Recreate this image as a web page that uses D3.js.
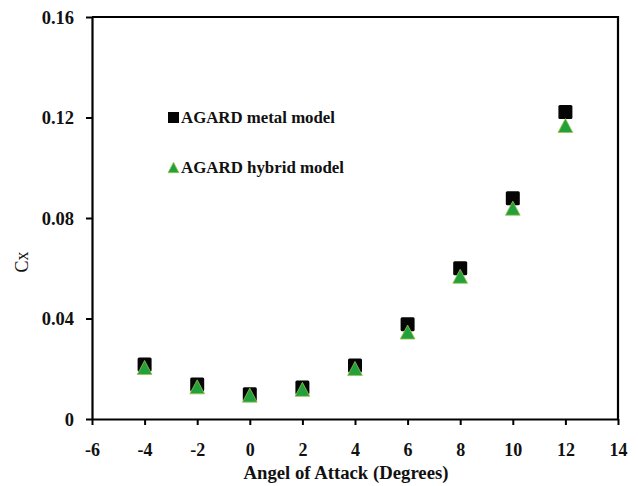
<!DOCTYPE html>
<html>
<head>
<meta charset="utf-8">
<script src="https://cdn.jsdelivr.net/npm/d3@7"></script>
<style>
  html, body { margin: 0; padding: 0; background: #fff; }
  svg { display: block; }
  text { font-family: "Liberation Serif", "DejaVu Serif", serif; font-weight: bold; fill: #111; }
</style>
</head>
<body>
<svg id="chart" width="638" height="486"></svg>
<script>
// Angle of attack (degrees)
const angles = [-4, -2, 0, 2, 4, 6, 8, 10, 12];
// Drag coefficient Cx for each model
const metalCx  = [0.0217, 0.0137, 0.0099, 0.0125, 0.0213, 0.0377, 0.0600, 0.0879, 0.1222];
const hybridCx = [0.0205, 0.0128, 0.0095, 0.0118, 0.0201, 0.0346, 0.0568, 0.0839, 0.1168];
// Axis ticks
const xTicks = [-6, -4, -2, 0, 2, 4, 6, 8, 10, 12, 14];
const xTickLabels = ["-6", "-4", "-2", "0", "2", "4", "6", "8", "10", "12", "14"];
const yTicks = [0, 0.04, 0.08, 0.12, 0.16];
const yTickLabels = ["0", "0.04", "0.08", "0.12", "0.16"];
const seriesNames = ["AGARD metal model", "AGARD hybrid model"];

const svg = d3.select("#chart");
const m = { left: 92, right: 618, top: 17, bottom: 419 };

const x = d3.scaleLinear().domain([-6, 14]).range([m.left, m.right]);
const y = d3.scaleLinear().domain([0, 0.16]).range([m.bottom, m.top]);

const axisColor = "#000";

// Plot frame (top and right edges)
svg.append("path")
  .attr("d", `M${m.left},${m.top}H${m.right}V${m.bottom}`)
  .attr("fill", "none").attr("stroke", axisColor).attr("stroke-width", 2.2);

// Y axis
const yAxis = svg.append("g")
  .attr("transform", `translate(${m.left},0)`)
  .call(d3.axisLeft(y).tickValues(yTicks).tickSize(6).tickSizeOuter(0)
    .tickFormat((d, i) => yTickLabels[i]));
yAxis.select(".domain").attr("stroke", axisColor).attr("stroke-width", 2.2);
yAxis.selectAll(".tick line").attr("stroke", axisColor).attr("stroke-width", 2);
yAxis.selectAll(".tick text")
  .attr("x", -18).attr("dy", "0.34em")
  .style("font-size", "18.5px").style("font-family", "Liberation Serif").style("font-weight", "bold");

// X axis
const xAxis = svg.append("g")
  .attr("transform", `translate(0,${m.bottom})`)
  .call(d3.axisBottom(x).tickValues(xTicks).tickSize(6).tickSizeOuter(0)
    .tickFormat((d, i) => xTickLabels[i]));
xAxis.select(".domain").attr("stroke", axisColor).attr("stroke-width", 2.2);
xAxis.selectAll(".tick line").attr("stroke", axisColor).attr("stroke-width", 2);
xAxis.selectAll(".tick text")
  .attr("y", 24).attr("dy", "0.71em")
  .style("font-size", "18px").style("font-family", "Liberation Serif").style("font-weight", "bold");

// Axis titles
svg.append("text")
  .attr("x", 346).attr("y", 479)
  .attr("text-anchor", "middle")
  .attr("textLength", 205).attr("lengthAdjust", "spacingAndGlyphs")
  .style("font-size", "18px")
  .text("Angel of Attack (Degrees)");

svg.append("text")
  .attr("transform", "translate(28,262) rotate(-90)")
  .attr("text-anchor", "middle")
  .style("font-size", "18px").style("font-weight", "normal")
  .text("Cx");

const pts = angles.map((a, i) => ({ a, metal: metalCx[i], hybrid: hybridCx[i] }));

const greenFill = "#22a03c";
const greenEdge = "#9cc24a";
const tri = (s) => `M0,${-s}L${s * 1.05},${s}L${-s * 1.05},${s}Z`;

// Metal model: black squares
svg.append("g").selectAll("rect")
  .data(pts).join("rect")
  .attr("x", d => x(d.a) - 7).attr("y", d => y(d.metal) - 7)
  .attr("width", 14).attr("height", 14).attr("rx", 1.5)
  .attr("fill", "#050505");

// Hybrid model: green triangles
svg.append("g").selectAll("path")
  .data(pts).join("path")
  .attr("transform", d => `translate(${x(d.a)},${y(d.hybrid)})`)
  .attr("d", tri(7))
  .attr("fill", greenFill).attr("stroke", greenEdge).attr("stroke-width", 0.8);

// Legend
const lg = svg.append("g");
lg.append("rect").attr("x", 168).attr("y", 112).attr("width", 11).attr("height", 11).attr("fill", "#050505");
lg.append("text").attr("x", 181).attr("y", 123)
  .attr("textLength", 154).attr("lengthAdjust", "spacingAndGlyphs")
  .style("font-size", "17px").text(seriesNames[0]);
lg.append("path").attr("transform", "translate(173.5,167.5)").attr("d", tri(5.2))
  .attr("fill", greenFill).attr("stroke", greenEdge).attr("stroke-width", 0.8);
lg.append("text").attr("x", 181).attr("y", 173)
  .attr("textLength", 163).attr("lengthAdjust", "spacingAndGlyphs")
  .style("font-size", "17px").text(seriesNames[1]);
</script>
</body>
</html>
